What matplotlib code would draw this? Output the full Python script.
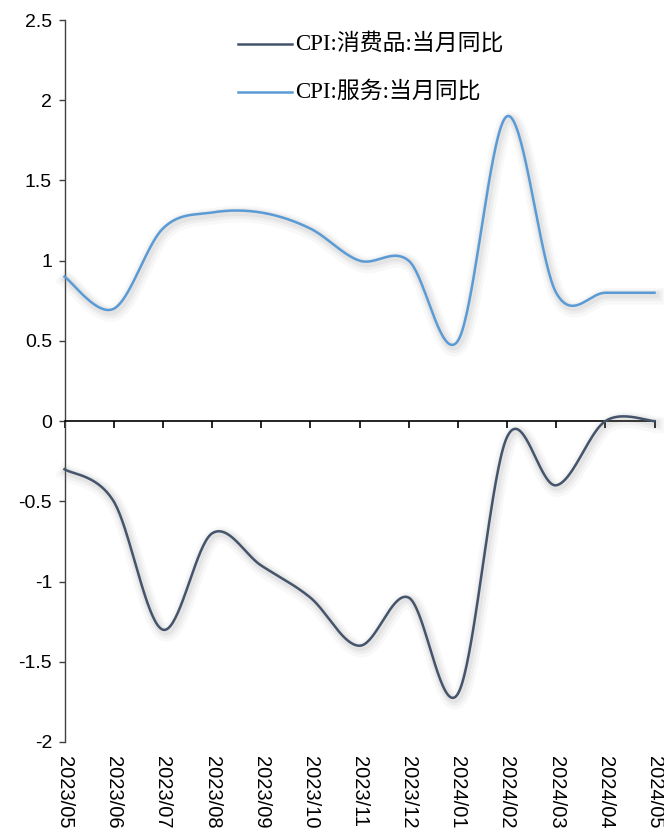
import numpy as np
import matplotlib
matplotlib.use("Agg")
import matplotlib.pyplot as plt
import matplotlib.patheffects as pe
from matplotlib.lines import Line2D

plt.rcParams['font.family'] = ['Liberation Sans', 'DejaVu Sans']
plt.rcParams['axes.unicode_minus'] = False

# ─── DATA ───────────────────────────────────────────────────────────────
months = ['2023/05', '2023/06', '2023/07', '2023/08', '2023/09', '2023/10', '2023/11',
          '2023/12', '2024/01', '2024/02', '2024/03', '2024/04', '2024/05']
goods = [-0.3, -0.5, -1.3, -0.7, -0.9, -1.1, -1.4, -1.1, -1.7, -0.1, -0.4, 0.0, 0.0]
services = [0.9, 0.7, 1.2, 1.3, 1.3, 1.2, 1.0, 1.0, 0.5, 1.9, 0.8, 0.8, 0.8]
yticks = [2.5, 2, 1.5, 1, 0.5, 0, -0.5, -1, -1.5, -2]
ytick_labels = ['2.5', '2', '1.5', '1', '0.5', '0', '-0.5', '-1', '-1.5', '-2']
label_goods = 'CPI:消费品:当月同比'
label_services = 'CPI:服务:当月同比'

C_GOODS = '#44546A'
C_SERV = '#5B9BD5'


# ─── HELPERS ────────────────────────────────────────────────────────────
def smooth_curve(y, n=40):
    """Bezier smoothing like Excel's 'smoothed line' (drawing only)."""
    y = np.asarray(y, dtype=float)
    x = np.arange(len(y), dtype=float)
    pts = np.column_stack([x, y])
    ext = np.vstack([pts[0], pts, pts[-1]])
    out = []
    t = np.linspace(0, 1, n)[:, None]
    for i in range(len(pts) - 1):
        p0, p1, p2, p3 = ext[i], ext[i + 1], ext[i + 2], ext[i + 3]
        c1 = p1 + (p2 - p0) / 6.0
        c2 = p2 - (p3 - p1) / 6.0
        seg = ((1 - t) ** 3) * p1 + 3 * ((1 - t) ** 2) * t * c1 + 3 * (1 - t) * t ** 2 * c2 + t ** 3 * p2
        out.append(seg if i == 0 else seg[1:])
    out = np.vstack(out)
    return out[:, 0], out[:, 1]


def glow():
    return [pe.SimpleLineShadow(offset=(1.5, -2.5), shadow_color='#808080', alpha=0.05, linewidth=12),
            pe.SimpleLineShadow(offset=(1.5, -2), shadow_color='#808080', alpha=0.07, linewidth=8),
            pe.SimpleLineShadow(offset=(1, -1.5), shadow_color='#808080', alpha=0.09, linewidth=5),
            pe.Normal()]


# ─── PLOT ───────────────────────────────────────────────────────────────
fig = plt.figure(figsize=(6.64, 8.33), dpi=100)
ax = fig.add_axes([64.5 / 664, 1 - 742 / 833, (654.5 - 64.5) / 664, (742 - 20) / 833])

xs, ys = smooth_curve(services)
ax.plot(xs, ys, color=C_SERV, lw=1.8, path_effects=glow(), clip_on=False, zorder=3)
xg, yg = smooth_curve(goods)
ax.plot(xg, yg, color=C_GOODS, lw=1.8, path_effects=glow(), clip_on=False, zorder=3)

ax.set_xlim(0, len(months) - 1)
ax.set_ylim(-2, 2.5)
ax.set_yticks(yticks)
ax.set_yticklabels(ytick_labels, fontsize=14)

ax.spines['top'].set_visible(False)
ax.spines['right'].set_visible(False)
ax.spines['bottom'].set_position(('data', 0))
ax.spines['bottom'].set_color('black')
ax.spines['bottom'].set_linewidth(1.2)
ax.spines['left'].set_color('#404040')
ax.spines['left'].set_linewidth(1.0)

ax.tick_params(axis='y', direction='out', length=4, width=1.0, color='#404040', pad=5)
ax.set_xticks(range(len(months)))
ax.set_xticklabels([])
ax.tick_params(axis='x', direction='out', length=5, width=1.2, color='black')

for i, m in enumerate(months):
    ax.annotate(m, xy=(i, 0), xycoords=('data', 'axes fraction'), xytext=(0, -14),
                textcoords='offset pixels', rotation=-90, ha='center', va='top',
                fontsize=14.5, annotation_clip=False)

# legend
leg_font = ['Liberation Serif', 'Noto Sans CJK SC']
for ypx, col, lbl in [(44, C_GOODS, label_goods), (92, C_SERV, label_services)]:
    yf = 1 - ypx / 833
    fig.add_artist(Line2D([238 / 664, 292 / 664], [yf, yf], color=col, lw=1.8,
                          transform=fig.transFigure))
    fig.text(295 / 664, yf, lbl, fontsize=16.5, family=leg_font, va='center', ha='left')

fig.savefig('out.png', dpi=100)
